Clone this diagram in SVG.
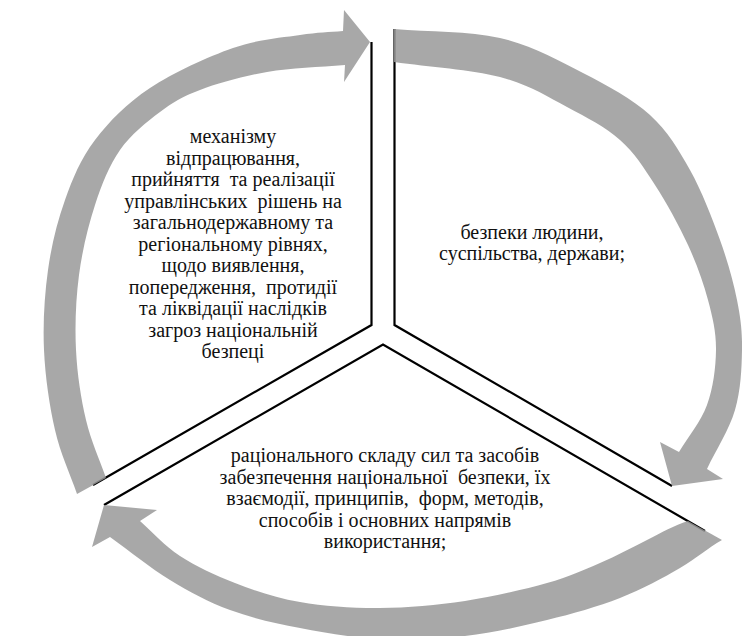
<svg xmlns="http://www.w3.org/2000/svg" width="742" height="636" viewBox="0 0 742 636">
  <rect x="0" y="0" width="742" height="636" fill="#ffffff"/>

  <g id="dividers" fill="none" stroke="#000" stroke-width="2.2" stroke-linejoin="miter">
    <path d="M 371.5,42 L 371.5,325 L 93,485"/>
    <path d="M 394.5,29 L 394.5,325 L 672,486"/>
    <path d="M 104,505 L 383,344.5 L 705,531"/>
  </g>

  <g id="connectors" fill="#999999" fill-opacity="0.85" stroke="none">
    <path id="arrow-left" d="M 77,494 C 69.7,472.7 60.5,454 55,430 C 49.5,406 45.2,376.7 44,350 C 42.8,323.3 44.5,295 48,270 C 51.5,245 57.2,221.7 65,200 C 72.8,178.3 80.8,158.7 95,140 C 109.2,121.3 127,103.3 150,88 C 173,72.7 208,56.8 233,48 C 258,39.2 281.7,37.8 300,35 C 318.3,32.2 328.7,32.3 343,31 L 344,10 L 370,42 L 344,82 L 345,65 C 319,67.3 291.2,67.8 267,72 C 242.8,76.2 217.8,83.3 200,90 C 182.2,96.7 173.3,102 160,112 C 146.7,122 130.8,134.5 120,150 C 109.2,165.5 101.8,184.2 95,205 C 88.2,225.8 82.2,250.8 79,275 C 75.8,299.2 74.8,325.8 76,350 C 77.2,374.2 81,398.7 86,420 C 91,441.3 99.3,458.7 106,478 Z"/>
    <path id="arrow-right" d="M 394,29 C 429.3,32 468.5,30.7 500,38 C 531.5,45.3 558,60.2 583,73 C 608,85.8 632.2,98.8 650,115 C 667.8,131.2 678.3,149.2 690,170 C 701.7,190.8 712.2,218.3 720,240 C 727.8,261.7 733.3,281.7 737,300 C 740.7,318.3 742.3,331.7 742,350 C 741.7,368.3 740.8,390.2 735,410 C 729.2,429.8 716.3,449.3 707,469 L 723,479 L 672,486 L 660,442 L 679,452 C 688.3,436.3 700.8,422 707,405 C 713.2,388 715.8,367.5 716,350 C 716.2,332.5 712.7,317.5 708,300 C 703.3,282.5 696.8,264.2 688,245 C 679.2,225.8 666.3,202.5 655,185 C 643.7,167.5 634.7,153 620,140 C 605.3,127 587,117.5 567,107 C 547,96.5 528.8,84.5 500,77 C 471.2,69.5 429.3,67 394,62 Z"/>
    <path id="arrow-bottom" d="M 722,540 C 708,548 697,558 680,568 C 663,578 642.2,589.3 620,598 C 597.8,606.7 572.8,613.7 547,620 C 521.2,626.3 492.8,632.8 465,636 C 437.2,639.2 407.5,640.3 380,639 C 352.5,637.7 325,632.8 300,628 C 275,623.2 251.7,618 230,610 C 208.3,602 190,592.2 170,580 C 150,567.8 130,551.3 110,537 L 92,547 L 104,505 L 157,510 L 140,521 C 153.3,532.7 164.2,545.7 180,556 C 195.8,566.3 215,575.3 235,583 C 255,590.7 275.8,597.8 300,602 C 324.2,606.2 352.5,608.2 380,608 C 407.5,607.8 437.2,605.2 465,601 C 492.8,596.8 524.5,589.3 547,583 C 569.5,576.7 583.3,570.2 600,563 C 616.7,555.8 632.3,547.5 647,540 C 661.7,532.5 674.3,525.3 688,521 Z"/>
  </g>

  <g id="node-left" fill="#111" text-anchor="middle" font-family="Liberation Serif" font-size="28">
    <text transform="translate(233,143) scale(0.7143)">механізму</text>
    <text transform="translate(233,164.5) scale(0.7143)">відпрацювання,</text>
    <text transform="translate(233,186) scale(0.7143)" xml:space="preserve">прийняття  та реалізації</text>
    <text transform="translate(233,207.5) scale(0.7143)" xml:space="preserve">управлінських  рішень на</text>
    <text transform="translate(233,229) scale(0.7143)">загальнодержавному та</text>
    <text transform="translate(233,250.5) scale(0.7143)">регіональному рівнях,</text>
    <text transform="translate(233,272) scale(0.7143)">щодо виявлення,</text>
    <text transform="translate(233,293.5) scale(0.7143)" xml:space="preserve">попередження,  протидії</text>
    <text transform="translate(233,315) scale(0.7143)">та ліквідації наслідків</text>
    <text transform="translate(233,336.5) scale(0.7143)">загроз національній</text>
    <text transform="translate(233,358) scale(0.7143)">безпеці</text>
  </g>

  <g id="node-right" fill="#111" text-anchor="middle" font-family="Liberation Serif" font-size="28">
    <text transform="translate(532,239) scale(0.7143)">безпеки людини,</text>
    <text transform="translate(532,260) scale(0.7143)">суспільства, держави;</text>
  </g>

  <g id="node-bottom" fill="#111" text-anchor="middle" font-family="Liberation Serif" font-size="28">
    <text transform="translate(385,462) scale(0.7143)">раціонального складу сил та засобів</text>
    <text transform="translate(385,483.5) scale(0.7143)" xml:space="preserve">забезпечення національної  безпеки, їх</text>
    <text transform="translate(385,505) scale(0.7143)" xml:space="preserve">взаємодії, принципів,  форм, методів,</text>
    <text transform="translate(385,526.5) scale(0.7143)">способів і основних напрямів</text>
    <text transform="translate(385,548) scale(0.7143)">використання;</text>
  </g>
</svg>
